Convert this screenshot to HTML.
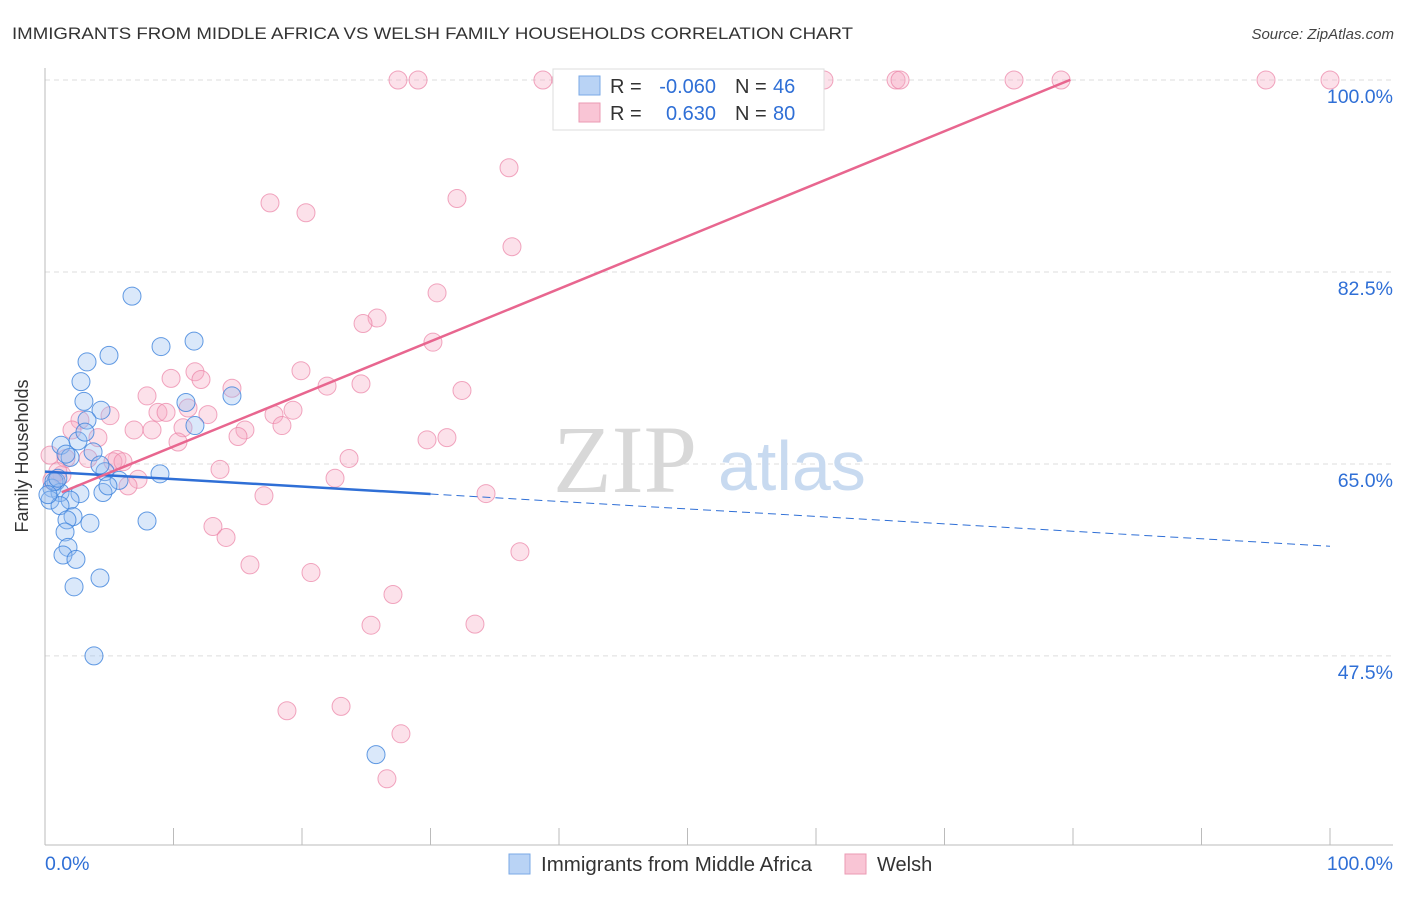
<!DOCTYPE html>
<html><head><meta charset="utf-8"><style>
body{margin:0;background:#fff;font-family:"Liberation Sans",sans-serif;}
</style></head><body>
<svg width="1406" height="892" viewBox="0 0 1406 892" xmlns="http://www.w3.org/2000/svg">
<text x="12" y="39" font-size="17" fill="#333" textLength="841" lengthAdjust="spacingAndGlyphs">IMMIGRANTS FROM MIDDLE AFRICA VS WELSH FAMILY HOUSEHOLDS CORRELATION CHART</text>
<text x="1394" y="39" font-size="15" fill="#444" font-style="italic" text-anchor="end">Source: ZipAtlas.com</text>
<g id="grid"></g>
<g>
<text x="553" y="492" font-size="96" font-family="Liberation Serif,serif" fill="#d8d8d8">ZIP</text>
<text x="718" y="490" font-size="70" fill="#c8daf0">atlas</text>
</g>
<g id="axes"></g>
<g id="pink"></g>
<g id="blue"></g>
<g id="lines"></g>
<text x="28" y="456" font-size="18" fill="#333" text-anchor="middle" transform="rotate(-90 28 456)">Family Households</text>
<g>
<rect x="553" y="69" width="271" height="61" fill="#fff" stroke="#ddd"/>
<rect x="579" y="76" width="21" height="19" fill="#b9d3f5" stroke="#7aa8e6"/>
<rect x="579" y="103" width="21" height="19" fill="#f9c5d5" stroke="#eb9ab3"/>
<g font-size="20" fill="#333">
<text x="610" y="93">R =</text>
<text x="716" y="93" fill="#2f6fd6" text-anchor="end">-0.060</text>
<text x="735" y="93">N =</text>
<text x="773" y="93" fill="#2f6fd6">46</text>
<text x="610" y="120">R =</text>
<text x="716" y="120" fill="#2f6fd6" text-anchor="end">0.630</text>
<text x="735" y="120">N =</text>
<text x="773" y="120" fill="#2f6fd6">80</text>
</g>
</g>
<g>
<rect x="509" y="854" width="21" height="20" fill="#b9d3f5" stroke="#7aa8e6"/>
<text x="541" y="871" font-size="20" fill="#333" textLength="271" lengthAdjust="spacingAndGlyphs">Immigrants from Middle Africa</text>
<rect x="845" y="854" width="21" height="20" fill="#f9c5d5" stroke="#eb9ab3"/>
<text x="877" y="871" font-size="20" fill="#333">Welsh</text>
</g>
</svg>
<script>
const yTicks=[100,82.5,65,47.5];
const yTickLabels=["100.0%","82.5%","65.0%","47.5%"];
const xLabels=["0.0%","100.0%"];
const blueX=[6.77,9.03,11.6,4.98,3.27,2.8,3.03,10.97,14.55,4.36,11.67,3.27,2.57,3.11,1.25,3.74,1.95,8.95,4.67,5.76,0.86,0.54,1.17,2.72,4.51,4.9,1.95,0.39,1.17,2.18,1.71,3.5,7.94,1.56,1.79,1.4,2.41,4.28,2.26,3.81,25.76,0.7,0.23,1.0,1.63,4.28];
const blueY=[80.3,75.7,76.2,74.9,74.3,72.5,70.7,70.6,71.2,69.9,68.5,69.0,67.1,67.9,66.7,66.1,65.6,64.1,64.3,63.5,63.4,62.8,62.4,62.3,62.4,63.0,61.7,61.7,61.2,60.2,59.9,59.6,59.8,58.8,57.4,56.7,56.3,54.6,53.8,47.5,38.5,63.4,62.2,63.7,65.9,64.9];
const pinkX=[27.47,29.03,38.75,40.16,41.4,47.47,54.24,60.62,66.23,66.54,75.41,79.07,95.02,100,36.11,17.51,20.31,32.06,36.34,30.51,25.84,24.75,30.19,11.67,19.92,9.81,12.14,14.55,24.59,32.45,21.95,7.94,19.3,11.13,8.79,9.42,17.82,12.68,2.72,5.06,6.93,8.33,10.74,15.56,18.44,15.02,2.1,4.12,10.35,29.73,31.28,5.6,5.29,6.07,3.35,1.63,23.66,13.62,1.32,1.0,7.24,6.46,22.57,34.32,17.04,13.07,14.09,36.96,15.95,20.7,27.08,25.37,33.46,18.83,23.04,27.7,26.61,0.39,0.54];
const pinkY=[100,100,100,100,100,100,100,100,100,100,100,100,100,100,92.0,88.8,87.9,89.2,84.8,80.6,78.3,77.8,76.1,73.4,73.5,72.8,72.7,71.9,72.3,71.7,72.1,71.2,69.9,70.1,69.7,69.7,69.5,69.5,69.0,69.4,68.1,68.1,68.3,68.1,68.5,67.5,68.1,67.4,67.0,67.2,67.4,65.4,65.2,65.2,65.5,65.5,65.5,64.5,64.0,64.3,63.6,63.0,63.7,62.3,62.1,59.3,58.3,57.0,55.8,55.1,53.1,50.3,50.4,42.5,42.9,40.4,36.3,65.8,63.5];
const blueTrend=[64.3,-0.068];
const pinkTrend=[61.8,0.479];
const NS="http://www.w3.org/2000/svg";
const X=v=>45+v*12.85, Y=v=>80+(100-v)*10.97;
function mk(t,a,p){const e=document.createElementNS(NS,t);for(const k in a)e.setAttribute(k,a[k]);p.appendChild(e);return e;}
const grid=document.getElementById('grid');
yTicks.forEach((t,i)=>{
 const l=mk('line',{x1:45,x2:1393,y1:Y(t),y2:Y(t),stroke:'#ddd','stroke-dasharray':'5,4'},grid);
 
 
 const tx=mk('text',{x:1393,y:Y(t)+23,'font-size':19.5,fill:'#2f6fd6','text-anchor':'end'},grid);
 tx.textContent=yTickLabels[i];
 
 
});
const ax=document.getElementById('axes');
mk('line',{x1:45,x2:45,y1:68,y2:845,stroke:'#bbb'},ax);
mk('line',{x1:45,x2:1393,y1:845,y2:845,stroke:'#bbb'},ax);
for(let i=0;i<=10;i++){const t=mk('line',{x1:X(i*10),x2:X(i*10),y1:828,y2:845,stroke:'#bbb'},ax);
 
 }
[[0,'start',45],[100,'end',1393]].forEach((d,i)=>{const t=mk('text',{x:d[2],y:870,'font-size':19.5,fill:'#2f6fd6','text-anchor':d[1]},ax);t.textContent=xLabels[i];
 
 });
const pg=document.getElementById('pink');
pinkX.forEach((x,i)=>{const c=mk('circle',{cx:X(x),cy:Y(pinkY[i]),r:9,fill:'rgba(246,170,195,0.35)',stroke:'rgba(235,130,165,0.7)','stroke-width':1},pg);
 
 });
const bg=document.getElementById('blue');
blueX.forEach((x,i)=>{const c=mk('circle',{cx:X(x),cy:Y(blueY[i]),r:9,fill:'rgba(150,190,240,0.35)',stroke:'rgba(60,130,220,0.8)','stroke-width':1},bg);
 
 });
const lg=document.getElementById('lines');
const by=x=>blueTrend[0]+blueTrend[1]*x, py=x=>pinkTrend[0]+pinkTrend[1]*x;
let l1=mk('line',{x1:X(0),y1:Y(by(0)),x2:X(30),y2:Y(by(30)),stroke:'#2f6fd6','stroke-width':2.5},lg);


let l2=mk('line',{x1:X(30),y1:Y(by(30)),x2:X(100),y2:Y(by(100)),stroke:'#2f6fd6','stroke-width':1,'stroke-dasharray':'8,5'},lg);


let l3=mk('line',{x1:X(1.3),y1:Y(py(1.3)),x2:X(79.8),y2:Y(py(79.8)),stroke:'#e8668f','stroke-width':2.5},lg);


</script>
</body></html>
